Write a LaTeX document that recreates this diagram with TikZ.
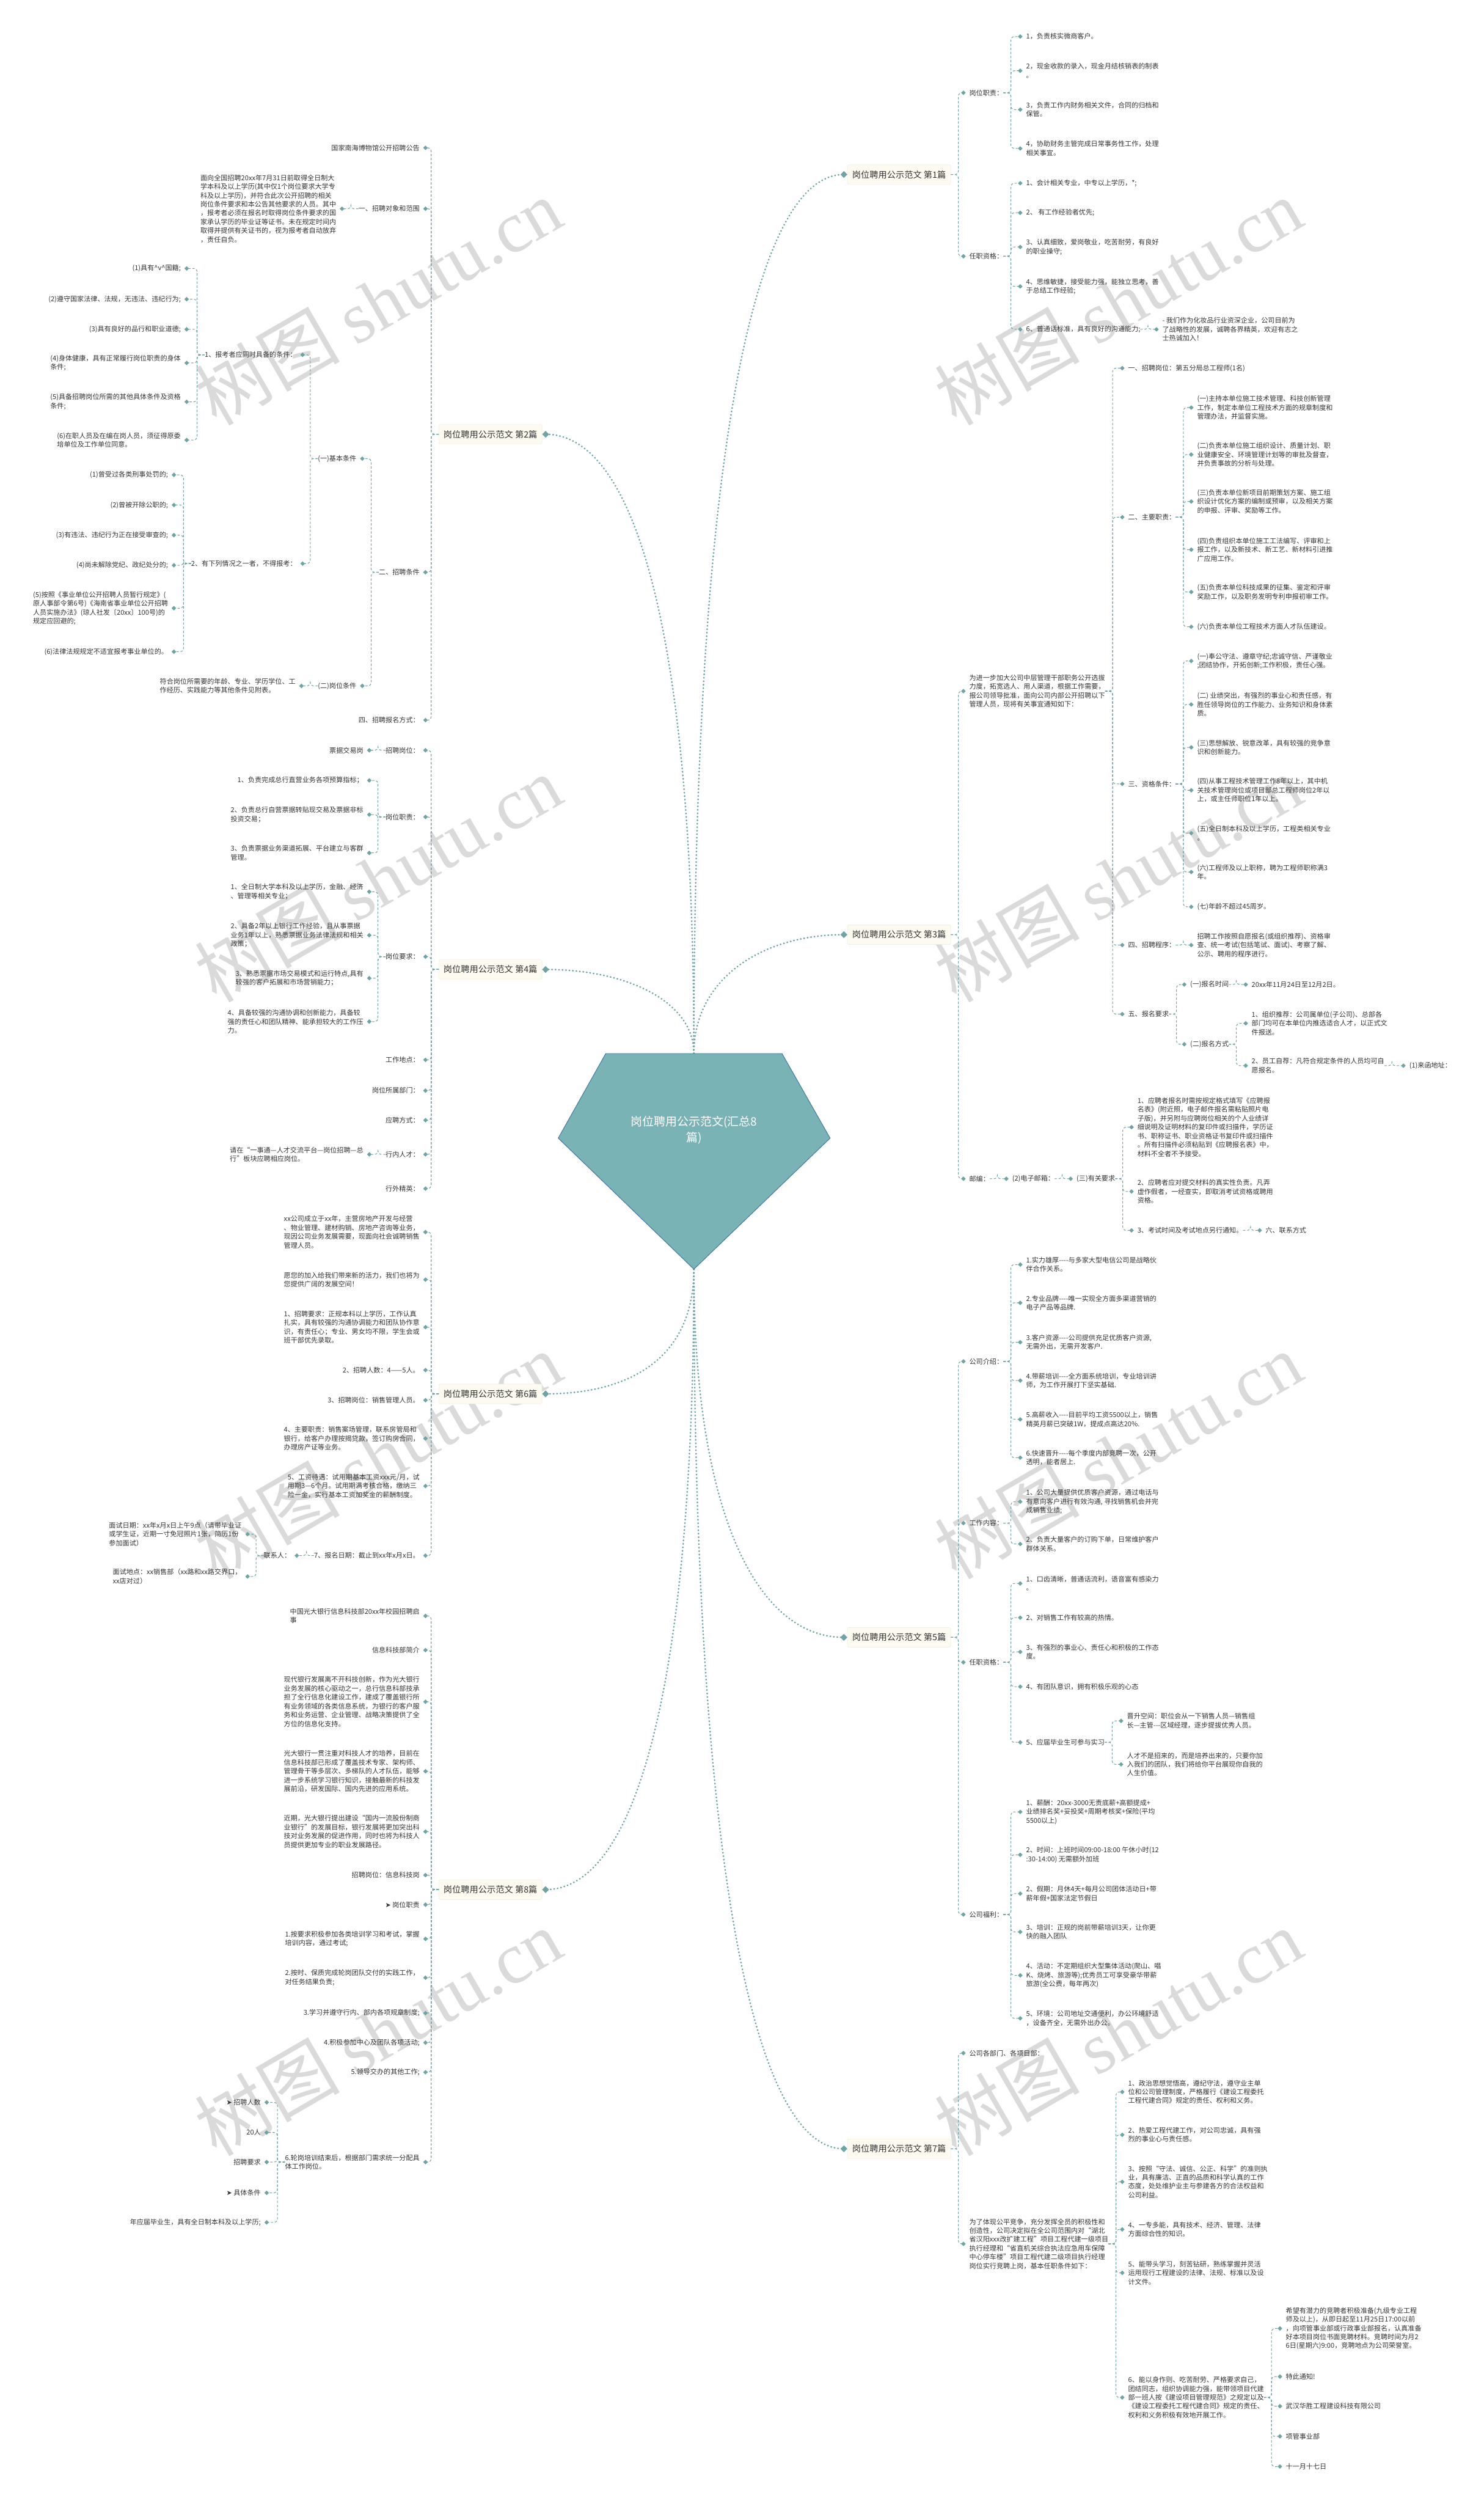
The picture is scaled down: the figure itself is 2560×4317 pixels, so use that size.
\documentclass[tikz,border=0pt]{standalone}
\usepackage{fontspec}
\setmainfont{Noto Sans CJK SC}
\newfontfamily\symfont{DejaVu Sans}
\newfontfamily\wmfont{Liberation Serif}
\usetikzlibrary{shapes.geometric}

\definecolor{ink}{HTML}{333333}
\definecolor{teal1}{HTML}{6FA3A4}
\definecolor{boxfill}{HTML}{FDFBF1}
\definecolor{boxline}{HTML}{ECE8D8}
\definecolor{hubfill}{HTML}{7AB3B5}
\definecolor{hubline}{HTML}{3F74A3}
\definecolor{wmgray}{HTML}{DADADA}

\tikzset{
  leaf/.style={font=\fontsize{11.7}{15.2}\selectfont, text=ink, inner sep=0pt, align=left},
  lft/.style={leaf, anchor=east},
  rgt/.style={leaf, anchor=west},
  topic/.style={draw=boxline, fill=boxfill, rounded corners=2pt, text=ink,
    font=\fontsize{15}{18}\selectfont, inner xsep=6pt, inner ysep=0pt,
    minimum height=34pt, minimum width=178pt},
  link/.style={draw=teal1, line width=1.1pt, dash pattern=on 4pt off 3pt, rounded corners=6pt},
  spine/.style={draw=teal1, line width=2.8pt, line cap=round, dash pattern=on 0.6pt off 5.4pt},
  knob/.style={diamond, fill=teal1, inner sep=0pt, minimum width=8pt, minimum height=8pt},
  bigknob/.style={knob, minimum width=12pt, minimum height=12pt},
  hubshape/.style={fill=hubfill, draw=hubline, line width=1pt},
  hubtext/.style={text=white, font=\fontsize{20}{27}\selectfont, align=center, inner sep=0pt},
  stamp/.style={text=wmgray, rotate=30, font=\fontsize{125}{125}\selectfont},
}

% parent -> child, left half and right half
\newcommand{\toL}[2]{%
  \draw[link] (#1.west) -- ++(-13,0) |- ([xshift=10pt]#2.east);
  \node[knob] (k-#2) at ([xshift=10pt]#2.east) {};}
\newcommand{\toR}[2]{%
  \draw[link] (#1.east) -- ++(13,0) |- ([xshift=-10pt]#2.west);
  \node[knob] (k-#2) at ([xshift=-10pt]#2.west) {};}

\begin{document}
\begin{tikzpicture}[x=1pt, y=-1pt]
\useasboundingbox (0,0) rectangle (2560,4317);
\fill[white] (0,0) rectangle (2560,4317);

\foreach \wx in {652,1929}{
  \foreach \wy in {520,1515,2510,3505}{
    \node[stamp] (wm-\wx-\wy) at (\wx,\wy) {树图 {\wmfont shutu.cn}};
  }
}

% ---------------- 第2篇
\node[topic] (b2) at (846,749) {岗位聘用公示范文 第2篇};
\node[lft] (b2a) at (724,255) {国家南海博物馆公开招聘公告};
\node[lft] (b2b) at (724,360) {一、招聘对象和范围};
\node[lft] (b2c) at (724,987) {二、招聘条件};
\node[lft] (b2d) at (724,1242) {四、招聘报名方式：};
\foreach \k in {b2a,b2b,b2c,b2d}{\toL{b2}{\k}}
\node[lft] (b2b1) at (580,360) {面向全国招聘20xx年7月31日前取得全日制大\\学本科及以上学历(其中仅1个岗位要求大学专\\科及以上学历)，并符合此次公开招聘的相关\\岗位条件要求和本公告其他要求的人员。其中\\，报考者必须在报名时取得岗位条件要求的国\\家承认学历的毕业证等证书。未在规定时间内\\取得并提供有关证书的，视为报考者自动放弃\\，责任自负。};
\toL{b2b}{b2b1}
\node[lft] (b2c1) at (615,791) {(一)基本条件};
\node[lft] (b2c2) at (615,1183) {(二)岗位条件};
\toL{b2c}{b2c1}
\toL{b2c}{b2c2}
\node[lft] (b2c2a) at (510,1183) {符合岗位所需要的年龄、专业、学历学位、工\\作经历、实践能力等其他条件见附表。};
\toL{b2c2}{b2c2a}
\node[lft] (b2c1a) at (512,612) {1、报考者应同时具备的条件：};
\node[lft] (b2c1b) at (512,972) {2、有下列情况之一者，不得报考：};
\toL{b2c1}{b2c1a}
\toL{b2c1}{b2c1b}
\foreach \i/\y/\t in {
  1/463/{(1)具有\textasciicircum v\textasciicircum 国籍;},
  2/516/{(2)遵守国家法律、法规，无违法、违纪行为;},
  3/568/{(3)具有良好的品行和职业道德;},
  4/626/{(4)身体健康，具有正常履行岗位职责的身体\\条件;},
  5/693/{(5)具备招聘岗位所需的其他具体条件及资格\\条件;},
  6/759/{(6)在职人员及在编在岗人员，须征得原委\\培单位及工作单位同意。}}{
  \node[lft] (b2c1a\i) at (312,\y) {\t};
  \toL{b2c1a}{b2c1a\i}
}
\foreach \i/\y/\t in {
  1/819/{(1)曾受过各类刑事处罚的;},
  2/871/{(2)曾被开除公职的;},
  3/923/{(3)有违法、违纪行为正在接受审查的;},
  4/975/{(4)尚未解除党纪、政纪处分的;},
  5/1049/{(5)按照《事业单位公开招聘人员暂行规定》(\\原人事部令第6号)《海南省事业单位公开招聘\\人员实施办法》(琼人社发〔20xx〕100号)的\\规定应回避的;},
  6/1124/{(6)法律法规规定不适宜报考事业单位的。}}{
  \node[lft] (b2c1b\i) at (290,\y) {\t};
  \toL{b2c1b}{b2c1b\i}
}

% ---------------- 第4篇
\node[topic] (b4) at (846,1672) {岗位聘用公示范文 第4篇};
\foreach \k/\y/\t in {a/1294/招聘岗位：, b/1409/岗位职责：, c/1650/岗位要求：, d/1828/工作地点：,
  e/1881/岗位所属部门：, f/1932/应聘方式：, g/1991/行内人才：, h/2050/行外精英：}{
  \node[lft] (b4\k) at (724,\y) {\t};
  \toL{b4}{b4\k}
}
\node[lft] (b4a1) at (627,1294) {票据交易岗};
\toL{b4a}{b4a1}
\foreach \i/\y/\t in {
  1/1346/{1、负责完成总行直营业务各项预算指标；},
  2/1405/{2、负责总行自营票据转贴现交易及票据非标\\投资交易；},
  3/1471/{3、负责票据业务渠道拓展、平台建立与客群\\管理。}}{
  \node[lft] (b4b\i) at (627,\y) {\t};
  \toL{b4b}{b4b\i}
}
\foreach \i/\y/\t in {
  1/1538/{1、全日制大学本科及以上学历，金融、经济\\、管理等相关专业；},
  2/1613/{2、具备2年以上银行工作经验，且从事票据\\业务1年以上，熟悉票据业务法律法规和相关\\政策；},
  3/1687/{3、熟悉票据市场交易模式和运行特点,具有\\较强的客户拓展和市场营销能力；},
  4/1762/{4、具备较强的沟通协调和创新能力，具备较\\强的责任心和团队精神、能承担较大的工作压\\力。}}{
  \node[lft] (b4c\i) at (627,\y) {\t};
  \toL{b4c}{b4c\i}
}
\node[lft] (b4g1) at (627,1991) {请在“一事通—人才交流平台—岗位招聘—总\\行”板块应聘相应岗位。};
\toL{b4g}{b4g1}

% ---------------- 第6篇
\node[topic] (b6) at (846,2404) {岗位聘用公示范文 第6篇};
\foreach \k/\y/\t in {
  a/2125/{xx公司成立于xx年，主营房地产开发与经营\\、物业管理、建材购销、房地产咨询等业务，\\现因公司业务发展需要，现面向社会诚聘销售\\管理人员。},
  b/2207/{愿您的加入给我们带来新的活力，我们也将为\\您提供广阔的发展空间！},
  c/2289/{1、招聘要求：正规本科以上学历，工作认真\\扎实，具有较强的沟通协调能力和团队协作意\\识，有责任心；专业、男女均不限，学生会或\\班干部优先录取。},
  d/2363/{2、招聘人数：4——5人。},
  e/2415/{3、招聘岗位：销售管理人员。},
  f/2481/{4、主要职责：销售案场管理，联系房管局和\\银行，给客户办理按揭贷款，签订购房合同，\\办理房产证等业务。},
  g/2563/{5、工资待遇：试用期基本工资xxx元/月，试\\用期3—6个月。试用期满考核合格，缴纳三\\险一金，实行基本工资加奖金的薪酬制度。},
  h/2683/{7、报名日期：截止到xx年x月x日。}}{
  \node[lft] (b6\k) at (724,\y) {\t};
  \toL{b6}{b6\k}
}
\node[lft] (b6h1) at (502,2683) {联系人：};
\toL{b6h}{b6h1}
\node[lft] (b6h1a) at (417,2646) {面试日期：xx年x月x日上午9点（请带毕业证\\或学生证，近期一寸免冠照片1张，简历1份\\参加面试）};
\node[lft] (b6h1b) at (417,2719) {面试地点：xx销售部（xx路和xx路交界口，\\xx店对过）};
\toL{b6h1}{b6h1a}
\toL{b6h1}{b6h1b}

% ---------------- 第8篇
\node[topic] (b8) at (846,3259) {岗位聘用公示范文 第8篇};
\foreach \k/\y/\t in {
  a/2787/{中国光大银行信息科技部20xx年校园招聘启\\事},
  b/2846/{信息科技部简介},
  c/2935/{现代银行发展离不开科技创新，作为光大银行\\业务发展的核心驱动之一，总行信息科部技承\\担了全行信息化建设工作，建成了覆盖银行所\\有业务领域的各类信息系统，为银行的客户服\\务和业务运营、企业管理、战略决策提供了全\\方位的信息化支持。},
  d/3055/{光大银行一贯注重对科技人才的培养，目前在\\信息科技部已形成了覆盖技术专家、架构师、\\管理骨干等多层次、多梯队的人才队伍，能够\\进一步系统学习银行知识，接触最新的科技发\\展前沿，研发国际、国内先进的应用系统。},
  e/3159/{近期，光大银行提出建设“国内一流股份制商\\业银行”的发展目标，银行发展将更加突出科\\技对业务发展的促进作用，同时也将为科技人\\员提供更加专业的职业发展路径。},
  f/3234/{招聘岗位：信息科技岗},
  g/3285/{{\symfont ➤} 岗位职责},
  h/3344/{1.按要求积极参加各类培训学习和考试，掌握\\培训内容，通过考试;},
  i/3411/{2.按时、保质完成轮岗团队交付的实践工作，\\对任务结果负责;},
  j/3472/{3.学习并遵守行内、部内各项规章制度;},
  k/3523/{4.积极参加中心及团队各项活动;},
  l/3574/{5.领导交办的其他工作;},
  m/3729/{6.轮岗培训结束后，根据部门需求统一分配具\\体工作岗位。}}{
  \node[lft] (b8\k) at (724,\y) {\t};
  \toL{b8}{b8\k}
}
\foreach \i/\y/\t in {
  1/3626/{{\symfont ➤} 招聘人数},
  2/3678/{20人},
  3/3729/{招聘要求},
  4/3782/{{\symfont ➤} 具体条件},
  5/3833/{年应届毕业生，具有全日制本科及以上学历;}}{
  \node[lft] (b8m\i) at (450,\y) {\t};
  \toL{b8m}{b8m\i}
}

% ---------------- 第1篇
\node[topic] (b1) at (1551,301) {岗位聘用公示范文 第1篇};
\node[rgt] (b1a) at (1672,160) {岗位职责：};
\node[rgt] (b1b) at (1672,442) {任职资格：};
\toR{b1}{b1a}
\toR{b1}{b1b}
\foreach \i/\y/\t in {
  1/63/{1，负责核实微商客户。},
  2/122/{2，现金收款的录入，现金月结核销表的制表\\。},
  3/189/{3，负责工作内财务相关文件，合同的归档和\\保管。},
  4/256/{4，协助财务主管完成日常事务性工作，处理\\相关事宜。}}{
  \node[rgt] (b1a\i) at (1770,\y) {\t};
  \toR{b1a}{b1a\i}
}
\foreach \i/\y/\t in {
  1/316/{1、会计相关专业，中专以上学历，*;},
  2/367/{2、 有工作经验者优先;},
  3/426/{3、认真细致，爱岗敬业，吃苦耐劳，有良好\\的职业操守;},
  4/494/{4、思维敏捷，接受能力强，能独立思考，善\\于总结工作经验;},
  5/568/{6、普通话标准，具有良好的沟通能力;}}{
  \node[rgt] (b1b\i) at (1770,\y) {\t};
  \toR{b1b}{b1b\i}
}
\node[rgt] (b1b5a) at (2005,568) {- 我们作为化妆品行业资深企业，公司目前为\\了战略性的发展，诚聘各界精英，欢迎有志之\\士热诚加入！};
\toR{b1b5}{b1b5a}

% ---------------- 第3篇
\node[topic] (b3) at (1551,1612) {岗位聘用公示范文 第3篇};
\node[rgt] (b3a) at (1672,1192) {为进一步加大公司中层管理干部职务公开选拔\\力度，拓宽选人、用人渠道，根据工作需要，\\报公司领导批准，面向公司内部公开招聘以下\\管理人员，现将有关事宜通知如下：};
\node[rgt] (b3b) at (1672,2033) {邮编：};
\toR{b3}{b3a}
\toR{b3}{b3b}
\foreach \k/\y/\t in {1/635/{一、招聘岗位：第五分局总工程师(1名)}, 2/892/{二、主要职责：},
  3/1352/{三、资格条件：}, 4/1630/{四、招聘程序：}, 5/1749/{五、报名要求}}{
  \node[rgt] (b3a\k) at (1946,\y) {\t};
  \toR{b3a}{b3a\k}
}
\foreach \i/\y/\t in {
  1/703/{(一)主持本单位施工技术管理、科技创新管理\\工作，制定本单位工程技术方面的规章制度和\\管理办法，并监督实施。},
  2/784/{(二)负责本单位施工组织设计、质量计划、职\\业健康安全、环境管理计划等的审批及督查，\\并负责事故的分析与处理。},
  3/865/{(三)负责本单位新项目前期策划方案、施工组\\织设计优化方案的编制或预审，以及相关方案\\的申报、评审、奖励等工作。},
  4/948/{(四)负责组织本单位施工工法编写、评审和上\\报工作，以及新技术、新工艺、新材料引进推\\广应用工作。},
  5/1021/{(五)负责本单位科技成果的征集、鉴定和评审\\奖励工作，以及职务发明专利申报初审工作。},
  6/1081/{(六)负责本单位工程技术方面人才队伍建设。}}{
  \node[rgt] (b3a2\i) at (2065,\y) {\t};
  \toR{b3a2}{b3a2\i}
}
\foreach \i/\y/\t in {
  1/1140/{(一)奉公守法、遵章守纪;忠诚守信、严谨敬业\\;团结协作，开拓创新;工作积极，责任心强。},
  2/1215/{(二) 业绩突出，有强烈的事业心和责任感，有\\胜任领导岗位的工作能力、业务知识和身体素\\质。},
  3/1289/{(三)思想解放、锐意改革，具有较强的竞争意\\识和创新能力。},
  4/1363/{(四)从事工程技术管理工作8年以上，其中机\\关技术管理岗位或项目部总工程师岗位2年以\\上，或主任师职位1年以上。},
  5/1437/{(五)全日制本科及以上学历，工程类相关专业\\。},
  6/1504/{(六)工程师及以上职称，聘为工程师职称满3\\年。},
  7/1564/{(七)年龄不超过45周岁。}}{
  \node[rgt] (b3a3\i) at (2065,\y) {\t};
  \toR{b3a3}{b3a3\i}
}
\node[rgt] (b3a41) at (2065,1630) {招聘工作按照自愿报名(或组织推荐)、资格审\\查、统一考试(包括笔试、面试)、考察了解、\\公示、聘用的程序进行。};
\toR{b3a4}{b3a41}
\node[rgt] (b3a51) at (2053,1698) {(一)报名时间};
\node[rgt] (b3a52) at (2053,1801) {(二)报名方式};
\toR{b3a5}{b3a51}
\toR{b3a5}{b3a52}
\node[rgt] (b3a51a) at (2159,1698) {20xx年11月24日至12月2日。};
\toR{b3a51}{b3a51a}
\node[rgt] (b3a52a) at (2159,1765) {1、组织推荐：公司属单位(子公司)、总部各\\部门均可在本单位内推选适合人才，以正式文\\件报送。};
\node[rgt] (b3a52b) at (2159,1838) {2、员工自荐：凡符合规定条件的人员均可自\\愿报名。};
\toR{b3a52}{b3a52a}
\toR{b3a52}{b3a52b}
\node[rgt] (b3a52b1) at (2431,1838) {(1)来函地址：};
\toR{b3a52b}{b3a52b1}
\node[rgt] (b3b1) at (1746,2033) {(2)电子邮箱：};
\toR{b3b}{b3b1}
\node[rgt] (b3b2) at (1857,2033) {(三)有关要求};
\toR{b3b1}{b3b2}
\foreach \i/\y/\t in {
  1/1944/{1、应聘者报名时需按规定格式填写《应聘报\\名表》(附近照，电子邮件报名需粘贴照片电\\子版)，并另附与应聘岗位相关的个人业绩详\\细说明及证明材料的复印件或扫描件，学历证\\书、职称证书、职业资格证书复印件或扫描件\\。所有扫描件必须粘贴到《应聘报名表》中，\\材料不全者不予接受。},
  2/2055/{2、应聘者应对提交材料的真实性负责。凡弄\\虚作假者，一经查实，即取消考试资格或聘用\\资格。},
  3/2122/{3、考试时间及考试地点另行通知。}}{
  \node[rgt] (b3b2\i) at (1962,\y) {\t};
  \toR{b3b2}{b3b2\i}
}
\node[rgt] (b3b23a) at (2183,2122) {六、联系方式};
\toR{b3b23}{b3b23a}

% ---------------- 第5篇
\node[topic] (b5) at (1551,2824) {岗位聘用公示范文 第5篇};
\foreach \k/\y/\t in {a/2348/公司介绍：, b/2627/工作内容：, c/2867/任职资格：, d/3302/公司福利：}{
  \node[rgt] (b5\k) at (1672,\y) {\t};
  \toR{b5}{b5\k}
}
\foreach \i/\y/\t in {
  1/2181/{1.实力雄厚-{}-{}-{}-与多家大型电信公司是战略伙\\伴合作关系。},
  2/2247/{2.专业品牌-{}-{}-{}-唯一实现全方面多渠道营销的\\电子产品等品牌.},
  3/2315/{3.客户资源-{}-{}-{}-公司提供充足优质客户资源,\\无需外出，无需开发客户.},
  4/2381/{4.带薪培训-{}-{}-{}-全方面系统培训，专业培训讲\\师，为工作开展打下坚实基础.},
  5/2448/{5.高薪收入-{}-{}-{}-目前平均工资5500以上，销售\\精英月薪已突破1W，提成点高达20\%.},
  6/2514/{6.快速晋升-{}-{}-{}-每个季度内部竞聘一次，公开\\透明，能者居上.}}{
  \node[rgt] (b5a\i) at (1770,\y) {\t};
  \toR{b5a}{b5a\i}
}
\foreach \i/\y/\t in {
  1/2590/{1、公司大量提供优质客户资源，通过电话与\\有意向客户进行有效沟通, 寻找销售机会并完\\成销售业绩;},
  2/2663/{2、负责大量客户的订购下单，日常维护客户\\群体关系。}}{
  \node[rgt] (b5b\i) at (1770,\y) {\t};
  \toR{b5b}{b5b\i}
}
\foreach \i/\y/\t in {
  1/2731/{1、口齿清晰，普通话流利，语音富有感染力\\。},
  2/2790/{2、对销售工作有较高的热情。},
  3/2849/{3、有强烈的事业心、责任心和积极的工作态\\度。},
  4/2909/{4、有团队意识，拥有积极乐观的心态},
  5/3005/{5、应届毕业生可参与实习}}{
  \node[rgt] (b5c\i) at (1770,\y) {\t};
  \toR{b5c}{b5c\i}
}
\node[rgt] (b5c5a) at (1944,2968) {晋升空间：职位会从一下销售人员—销售组\\长—主管-{}-{}-区域经理，逐步提拔优秀人员。};
\node[rgt] (b5c5b) at (1944,3043) {人才不是招来的，而是培养出来的，只要你加\\入我们的团队，我们将给你平台展现你自我的\\人生价值。};
\toR{b5c5}{b5c5a}
\toR{b5c5}{b5c5b}
\foreach \i/\y/\t in {
  1/3125/{1、薪酬：20xx-3000无责底薪+高额提成+\\业绩排名奖+妥投奖+周期考核奖+保险(平均\\5500以上)},
  2/3199/{2、时间：上班时间09:00-18:00 午休小时(12\\:30-14:00) 无需额外加班},
  3/3266/{2、假期：月休4天+每月公司团体活动日+带\\薪年假+国家法定节假日},
  4/3332/{3、培训：正规的岗前带薪培训3天，让你更\\快的融入团队},
  5/3407/{4、活动：不定期组织大型集体活动(爬山、唱\\K、烧烤、旅游等);优秀员工可享受豪华带薪\\旅游(全公费，每年两次)},
  6/3481/{5、环境：公司地址交通便利，办公环境舒适\\，设备齐全，无需外出办公。}}{
  \node[rgt] (b5d\i) at (1770,\y) {\t};
  \toR{b5d}{b5d\i}
}

% ---------------- 第7篇
\node[topic] (b7) at (1551,3706) {岗位聘用公示范文 第7篇};
\node[rgt] (b7a) at (1672,3541) {公司各部门、各项目部：};
\node[rgt] (b7b) at (1672,3870) {为了体现公平竞争，充分发挥全员的积极性和\\创造性，公司决定拟在全公司范围内对“湖北\\省汉阳xxx改扩建工程”项目工程代建一级项目\\执行经理和“省直机关综合执法应急用车保障\\中心停车楼”项目工程代建二级项目执行经理\\岗位实行竞聘上岗，基本任职条件如下：};
\toR{b7}{b7a}
\toR{b7}{b7b}
\foreach \i/\y/\t in {
  1/3608/{1、政治思想觉悟高，遵纪守法，遵守业主单\\位和公司管理制度，严格履行《建设工程委托\\工程代建合同》规定的责任、权利和义务。},
  2/3682/{2、热爱工程代建工作，对公司忠诚，具有强\\烈的事业心与责任感。},
  3/3763/{3、按照“守法、诚信、公正、科学”的准则执\\业，具有廉洁、正直的品质和科学认真的工作\\态度，处处维护业主与参建各方的合法权益和\\公司利益。},
  4/3845/{4、一专多能，具有技术、经济、管理、法律\\方面综合性的知识。},
  5/3920/{5、能带头学习，刻苦钻研，熟练掌握并灵活\\运用现行工程建设的法律、法规、标准以及设\\计文件。},
  6/4135/{6、能以身作则、吃苦耐劳、严格要求自己，\\团结同志，组织协调能力强，能带领项目代建\\部一班人按《建设项目管理规范》之规定以及\\《建设工程委托工程代建合同》规定的责任、\\权利和义务积极有效地开展工作。}}{
  \node[rgt] (b7b\i) at (1946,\y) {\t};
  \toR{b7b}{b7b\i}
}
\foreach \i/\y/\t in {
  1/4016/{希望有潜力的竞聘者积极准备(九级专业工程\\师及以上)，从即日起至11月25日17:00以前\\，向项管事业部或行政事业部报名，认真准备\\好本项目岗位书面竞聘材料。竞聘时间为月2\\6日(星期六)9:00，竞聘地点为公司荣誉室。},
  2/4099/{特此通知!},
  3/4150/{武汉华胜工程建设科技有限公司},
  4/4202/{项管事业部},
  5/4254/{十一月十七日}}{
  \node[rgt] (b7b6\i) at (2218,\y) {\t};
  \toR{b7b6}{b7b6\i}
}

% ---------------- centre and the eight dotted spines
\coordinate (hubT) at (1197,1817);
\coordinate (hubB) at (1197,2189);
\draw[spine] (hubT) .. controls +(0,-700) and +(160,0) .. ([xshift=6pt]b2.east);
\draw[spine] (hubT) .. controls +(0,-90) and +(140,0) .. ([xshift=6pt]b4.east);
\draw[spine] (hubB) .. controls +(0,150) and +(150,0) .. ([xshift=6pt]b6.east);
\draw[spine] (hubB) .. controls +(0,700) and +(160,0) .. ([xshift=6pt]b8.east);
\draw[spine] (hubT) .. controls +(0,-1000) and +(-160,0) .. ([xshift=-6pt]b1.west);
\draw[spine] (hubT) .. controls +(0,-130) and +(-140,0) .. ([xshift=-6pt]b3.west);
\draw[spine] (hubB) .. controls +(0,420) and +(-150,0) .. ([xshift=-6pt]b5.west);
\draw[spine] (hubB) .. controls +(0,1000) and +(-160,0) .. ([xshift=-6pt]b7.west);
\foreach \b in {b2,b4,b6,b8}{\node[bigknob] (k-\b) at ([xshift=6pt]\b.east) {};}
\foreach \b in {b1,b3,b5,b7}{\node[bigknob] (k-\b) at ([xshift=-6pt]\b.west) {};}

\filldraw[hubshape] (1045,1817) -- (1349,1817) -- (1432,1963) -- (1197,2189) -- (963,1963) -- cycle;
\node[hubtext] (hub) at (1197,1949) {岗位聘用公示范文(汇总8\\篇)};
\end{tikzpicture}
\end{document}
